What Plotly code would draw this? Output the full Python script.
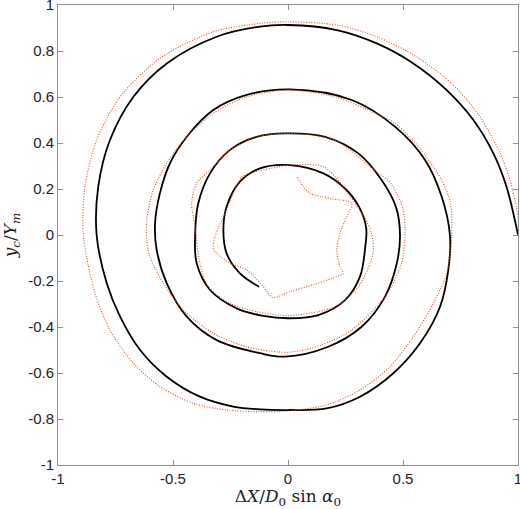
import plotly.graph_objects as go

# solid spiral (starting at (1, 0) and winding inward)
black_x = [1.0, 0.95, 0.893, 0.806, 0.69, 0.545, 0.386, 0.212, 0.0,
           -0.122, -0.31, -0.527, -0.672, -0.774, -0.825, -0.832,
           -0.788, -0.73, -0.643, -0.527, -0.383, -0.238, -0.122, 0.0,
           0.168, 0.313, 0.458, 0.574, 0.661, 0.697, 0.704,
           0.668, 0.596, 0.465, 0.277, 0.009,
           -0.18, -0.325, -0.44, -0.513, -0.557, -0.578,
           -0.571, -0.527, -0.44, -0.31, -0.122, -0.013,
           0.175, 0.32, 0.422, 0.473, 0.487,
           0.47, 0.407, 0.306, 0.161, -0.013,
           -0.136, -0.252, -0.339, -0.39, -0.404,
           -0.397, -0.339, -0.223, -0.107, 0.009,
           0.132, 0.248, 0.313, 0.335, 0.34,
           0.31, 0.25, 0.154, 0.009,
           -0.122, -0.209, -0.267, -0.281, -0.267, -0.209, -0.126]
black_y = [0.0, 0.21, 0.355, 0.5, 0.63, 0.746, 0.833, 0.891, 0.913,
           0.906, 0.862, 0.746, 0.601, 0.413, 0.21, 0.0,
           -0.21, -0.355, -0.5, -0.616, -0.703, -0.746, -0.758, -0.761,
           -0.754, -0.703, -0.601, -0.471, -0.312, -0.152, 0.0,
           0.167, 0.326, 0.471, 0.587, 0.633,
           0.609, 0.543, 0.427, 0.312, 0.181, 0.051,
           -0.065, -0.21, -0.355, -0.457, -0.514, -0.529,
           -0.486, -0.399, -0.268, -0.123, 0.0,
           0.12, 0.239, 0.355, 0.427, 0.442,
           0.427, 0.37, 0.268, 0.138, -0.007,
           -0.123, -0.239, -0.319, -0.352, -0.362,
           -0.348, -0.283, -0.181, -0.06, 0.03,
           0.12, 0.2, 0.268, 0.304,
           0.29, 0.232, 0.123, 0.022, -0.08, -0.167, -0.225]

# dotted spiral
orange_x = [1.0, 1.0, 0.965, 0.922, 0.835, 0.719, 0.559, 0.386, 0.212, 0.0,
            -0.122, -0.325, -0.557, -0.73, -0.832, -0.883, -0.89,
            -0.839, -0.774, -0.672, -0.557, -0.412, -0.267, -0.122, 0.0,
            0.168, 0.313, 0.443, 0.545, 0.632, 0.69, 0.712,
            0.706, 0.668, 0.567, 0.465, 0.349, 0.204, 0.0,
            -0.18, -0.325, -0.44, -0.527, -0.586, -0.614, -0.614,
            -0.6, -0.542, -0.455, -0.325, -0.18, 0.0,
            0.14, 0.277, 0.422, 0.494, 0.509,
            0.501, 0.45, 0.357, 0.204, 0.0,
            -0.136, -0.252, -0.339, -0.397, -0.419, -0.404,
            -0.383, -0.346, -0.252, -0.136, 0.0,
            0.204, 0.306, 0.357, 0.371, 0.364, 0.335, 0.3, 0.262, 0.212, 0.154, 0.009,
            -0.165, -0.2, -0.267, -0.317, -0.325, -0.31, -0.252, -0.18, -0.107, -0.067,
            0.009, 0.081, 0.212, 0.24, 0.226, 0.212, 0.226, 0.255, 0.277,
            0.183, 0.096, 0.067, 0.038]
orange_y = [0.0, 0.08, 0.239, 0.355, 0.514, 0.652, 0.775, 0.862, 0.913, 0.927,
            0.92, 0.884, 0.768, 0.601, 0.413, 0.21, 0.0,
            -0.254, -0.413, -0.558, -0.659, -0.732, -0.761, -0.768, -0.765,
            -0.739, -0.674, -0.573, -0.442, -0.297, -0.167, 0.0,
            0.138, 0.239, 0.384, 0.486, 0.543, 0.601, 0.63,
            0.601, 0.529, 0.427, 0.312, 0.196, 0.065, -0.022,
            -0.094, -0.21, -0.326, -0.427, -0.486, -0.51,
            -0.48, -0.413, -0.268, -0.123, 0.022,
            0.109, 0.22, 0.297, 0.413, 0.442,
            0.427, 0.37, 0.283, 0.225, 0.138, 0.036,
            -0.123, -0.225, -0.297, -0.333, -0.35,
            -0.312, -0.225, -0.123, -0.065, 0.007, 0.072, 0.125, 0.18, 0.245, 0.297, 0.304,
            0.268, 0.254, 0.109, -0.007, -0.06, -0.08, -0.123, -0.152, -0.225, -0.272,
            -0.246, -0.225, -0.181, -0.167, -0.138, -0.065, 0.007, 0.08, 0.138,
            0.159, 0.181, 0.21, 0.254]

x_ticks = [-1, -0.5, 0, 0.5, 1]
x_labels = ["-1", "-0.5", "0", "0.5", "1"]
y_ticks = [-1, -0.8, -0.6, -0.4, -0.2, 0, 0.2, 0.4, 0.6, 0.8, 1]
y_labels = ["-1", "-0.8", "-0.6", "-0.4", "-0.2", "0", "0.2", "0.4", "0.6", "0.8", "1"]

fig = go.Figure()
fig.add_trace(go.Scatter(x=black_x, y=black_y, mode="lines",
                         line=dict(color="black", width=1.8, shape="spline", smoothing=1.0),
                         showlegend=False))
fig.add_trace(go.Scatter(x=orange_x, y=orange_y, mode="lines",
                         line=dict(color="#D95319", width=1.1, dash="1px,1.6px",
                                   shape="spline", smoothing=0.8),
                         showlegend=False))

axis_style = dict(showline=True, mirror="ticks", linecolor="#8f8f8f", linewidth=1,
                  ticks="inside", ticklen=5, tickcolor="#8f8f8f",
                  showgrid=False, zeroline=False, ticklabeloverflow="allow",
                  automargin=False,
                  tickfont=dict(family="Liberation Sans", size=15, color="#222"))

fig.update_layout(
    width=520, height=509,
    margin=dict(l=58, r=2, t=5, b=44),
    plot_bgcolor="white", paper_bgcolor="white",
    xaxis=dict(range=[-1, 1], tickvals=x_ticks, ticktext=x_labels,
               title=dict(text="Δ<i>X</i>/<i>D</i><sub>0</sub> sin <i>α</i><sub>0</sub>",
                          font=dict(family="DejaVu Serif", size=17, color="#222"),
                          standoff=2),
               **axis_style),
    yaxis=dict(range=[-1, 1], tickvals=y_ticks, ticktext=y_labels,
               title=dict(text="<i>y</i><sub><i>c</i></sub>/<i>Y</i><sub><i>m</i></sub>",
                          font=dict(family="DejaVu Serif", size=17, color="#222"),
                          standoff=10),
               **axis_style),
)

# the page body has a default margin; drop it so the figure fills the window
fig.write_html("out.html", config={"displayModeBar": False},
               post_script="document.body.style.margin='0';")
